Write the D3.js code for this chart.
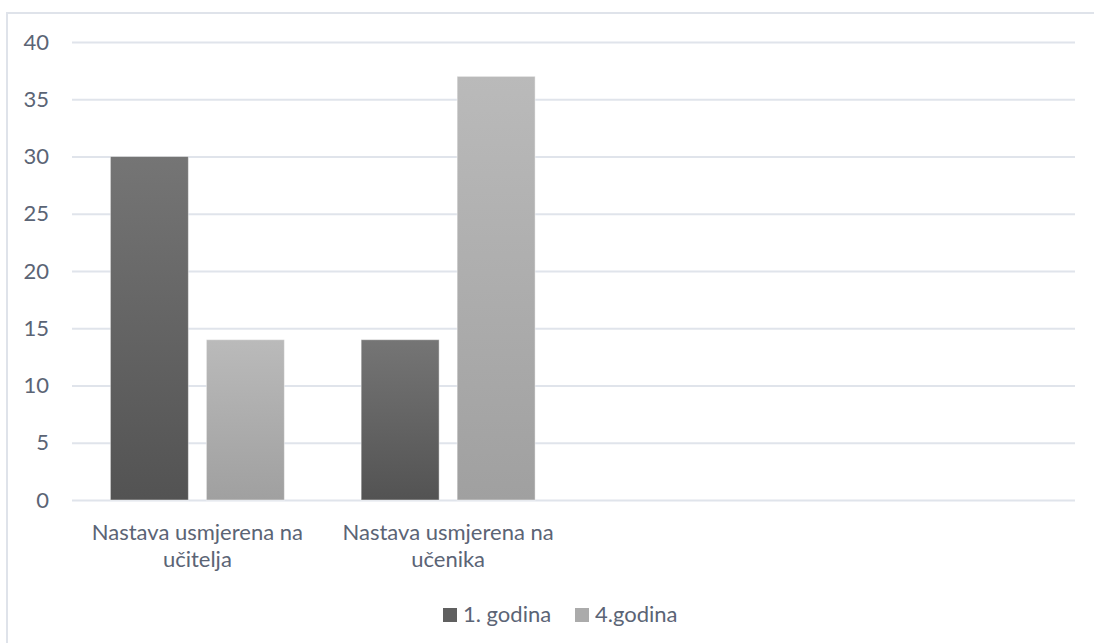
<!DOCTYPE html>
<html>
<head>
<meta charset="utf-8">
<script src="https://cdn.jsdelivr.net/npm/d3@7"></script>
<style>
  body { margin: 0; background: #fff; }
  text { font-family: Lato, "Open Sans", sans-serif; fill: #5b6475; }
</style>
</head>
<body>
<div id="chart"></div>
<script>
// chart data
const categories = ["Nastava usmjerena na učitelja", "Nastava usmjerena na učenika", "", ""];
const seriesNames = ["1. godina", "4.godina"];
const godina1 = [30, 14, null, null];
const godina4 = [14, 37, null, null];
const yTicks = [0, 5, 10, 15, 20, 25, 30, 35, 40];

const width = 1094;
const height = 643;
const margin = { left: 72, right: 19, top: 42, bottom: 143 };

const svg = d3.select("#chart")
    .append("svg")
    .attr("width", width)
    .attr("height", height);

// gradients like the office chart
const defs = svg.append("defs");
const gradients = [
  { id: "g1", top: "#757575", bottom: "#535353" },
  { id: "g4", top: "#bababa", bottom: "#a0a0a0" }
];
gradients.forEach(g => {
  const lg = defs.append("linearGradient")
      .attr("id", g.id)
      .attr("x1", 0).attr("y1", 0).attr("x2", 0).attr("y2", 1);
  lg.append("stop").attr("offset", "0%").attr("stop-color", g.top);
  lg.append("stop").attr("offset", "100%").attr("stop-color", g.bottom);
});
const fills = ["url(#g1)", "url(#g4)"];
const legendColors = ["#606060", "#ababab"];

// outer frame (only top and left visible)
svg.append("path")
    .attr("d", `M7,${height} L7,13 L${width},13`)
    .attr("fill", "none")
    .attr("stroke", "#dfe3ea")
    .attr("stroke-width", 2);

const x0 = d3.scaleBand()
    .domain(d3.range(categories.length))
    .range([margin.left, width - margin.right]);

const x1 = d3.scaleBand()
    .domain(seriesNames)
    .range([0, x0.bandwidth()])
    .paddingInner(0.1875)
    .paddingOuter(0.4);

const y = d3.scaleLinear()
    .domain([0, 40])
    .range([height - margin.bottom, margin.top]);

// gridlines
const yAxis = d3.axisLeft(y)
    .tickValues(yTicks)
    .tickSize(-(width - margin.left - margin.right))
    .tickPadding(23);

const gy = svg.append("g")
    .attr("transform", `translate(${margin.left},0)`)
    .call(yAxis);
gy.select(".domain").remove();
gy.selectAll(".tick line")
    .attr("stroke", "#e0e4eb")
    .attr("stroke-width", 2);
gy.selectAll(".tick text")
    .style("font-size", "22px")
    .attr("fill", "#5b6475");

// bars
const data = categories.map((c, i) => ({
  cat: i,
  values: [
    { name: seriesNames[0], value: godina1[i], fill: fills[0] },
    { name: seriesNames[1], value: godina4[i], fill: fills[1] }
  ]
}));

const groups = svg.append("g")
  .selectAll("g")
  .data(data)
  .enter().append("g")
  .attr("transform", d => `translate(${x0(d.cat)},0)`);

groups.selectAll("rect")
  .data(d => d.values.filter(v => v.value != null))
  .enter().append("rect")
  .attr("x", d => x1(d.name))
  .attr("y", d => y(d.value))
  .attr("width", x1.bandwidth())
  .attr("height", d => y(0) - y(d.value))
  .attr("fill", d => d.fill)
  .attr("stroke", "rgba(255,255,255,0.45)")
  .attr("stroke-width", 1);

// category labels, two lines
const labelLines = c => {
  if (!c) return [];
  const words = c.split(" ");
  return [words.slice(0, 3).join(" "), words.slice(3).join(" ")];
};

svg.append("g")
  .selectAll("text")
  .data(categories)
  .enter().append("text")
  .attr("text-anchor", "middle")
  .attr("x", (d, i) => x0(i) + x0.bandwidth() / 2)
  .attr("y", 540)
  .style("font-size", "22px")
  .each(function(d) {
    const t = d3.select(this);
    labelLines(d).forEach((line, k) => {
      t.append("tspan")
        .attr("x", t.attr("x"))
        .attr("dy", k === 0 ? 0 : 27)
        .text(line);
    });
  });

// legend
const legendX = [443, 575];
const legend = svg.append("g");
seriesNames.forEach((name, i) => {
  legend.append("rect")
    .attr("x", legendX[i])
    .attr("y", 608)
    .attr("width", 14)
    .attr("height", 14)
    .attr("fill", legendColors[i]);
  legend.append("text")
    .attr("x", legendX[i] + 20)
    .attr("y", 622)
    .style("font-size", "22px")
    .text(name);
});
</script>
</body>
</html>
